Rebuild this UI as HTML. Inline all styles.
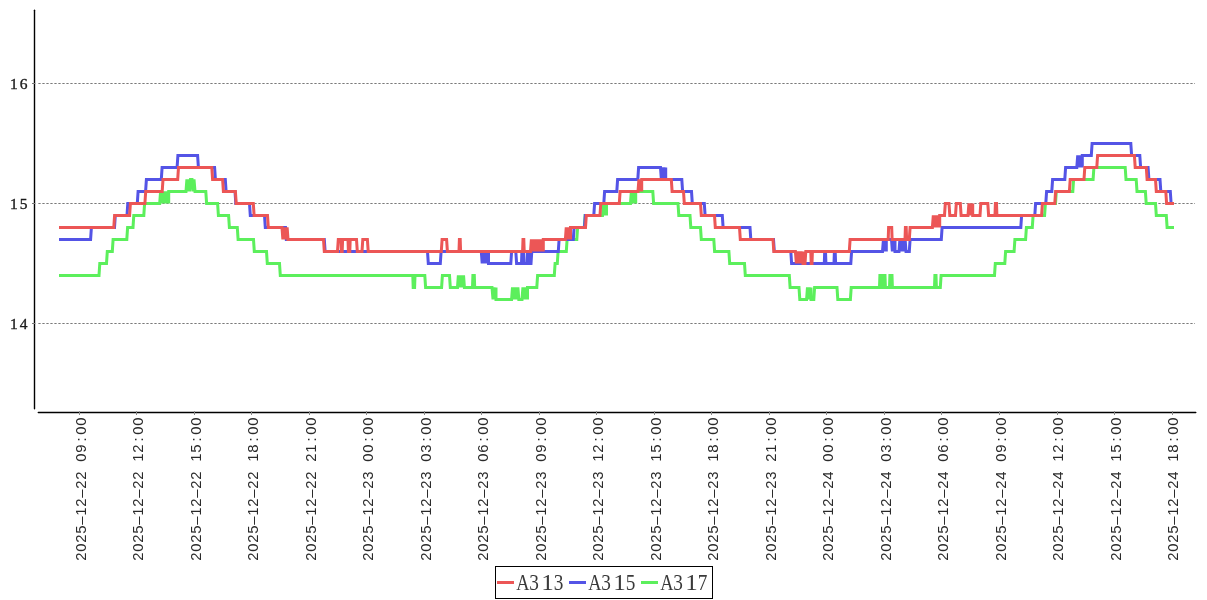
<!DOCTYPE html>
<html><head><meta charset="utf-8"><style>
html,body{margin:0;padding:0;background:#fff;width:1207px;height:600px;overflow:hidden}
svg{display:block;will-change:transform}
.yl{font-family:"Liberation Serif",serif;font-size:15.5px;fill:#1a1a1a;stroke:#1a1a1a;stroke-width:0.35px}
.xl{font-family:"Liberation Sans",sans-serif;font-size:14.9px;fill:#2a2a2a}
.lg{font-family:"Liberation Serif",serif;font-size:22.4px;fill:#3a3a3a}
</style></head><body>
<svg width="1207" height="600" viewBox="0 0 1207 600">
<rect width="1207" height="600" fill="#fff"/>
<line x1="38.35" y1="83.5" x2="1195" y2="83.5" stroke="#7a7a7a" stroke-width="1" stroke-dasharray="2.3 1.7"/>
<text y="88.5" class="yl" text-anchor="middle" x="13.8 23.6">16</text>
<line x1="38.35" y1="203.5" x2="1195" y2="203.5" stroke="#7a7a7a" stroke-width="1" stroke-dasharray="2.3 1.7"/>
<text y="208.5" class="yl" text-anchor="middle" x="13.8 23.6">15</text>
<line x1="38.35" y1="323.5" x2="1195" y2="323.5" stroke="#7a7a7a" stroke-width="1" stroke-dasharray="2.3 1.7"/>
<text y="328.5" class="yl" text-anchor="middle" x="13.8 23.6">14</text>
<line x1="34.5" y1="10.3" x2="34.5" y2="408.7" stroke="#000" stroke-width="1.4" stroke-linecap="round"/>
<line x1="38.3" y1="412.5" x2="1195.8" y2="412.5" stroke="#000" stroke-width="1.4" stroke-linecap="round"/>
<line x1="32" y1="83.5" x2="35.3" y2="83.5" stroke="#777" stroke-width="1"/>
<line x1="32" y1="203.5" x2="35.3" y2="203.5" stroke="#777" stroke-width="1"/>
<line x1="32" y1="323.5" x2="35.3" y2="323.5" stroke="#777" stroke-width="1"/>
<line x1="79.50" y1="411" x2="79.50" y2="415" stroke="#888" stroke-width="1"/>
<text transform="translate(85.50,0) rotate(-90)" class="xl" text-anchor="middle" x="-556.5 -547.5 -538.5 -529.5 -520.5 -511.5 -502.5 -493.5 -484.5 -475.5 -457.5 -448.5 -439.5 -430.5 -421.5">2025&#8211;12&#8211;2209:00</text>
<line x1="136.50" y1="411" x2="136.50" y2="415" stroke="#888" stroke-width="1"/>
<text transform="translate(143.00,0) rotate(-90)" class="xl" text-anchor="middle" x="-556.5 -547.5 -538.5 -529.5 -520.5 -511.5 -502.5 -493.5 -484.5 -475.5 -457.5 -448.5 -439.5 -430.5 -421.5">2025&#8211;12&#8211;2212:00</text>
<line x1="194.50" y1="411" x2="194.50" y2="415" stroke="#888" stroke-width="1"/>
<text transform="translate(200.50,0) rotate(-90)" class="xl" text-anchor="middle" x="-556.5 -547.5 -538.5 -529.5 -520.5 -511.5 -502.5 -493.5 -484.5 -475.5 -457.5 -448.5 -439.5 -430.5 -421.5">2025&#8211;12&#8211;2215:00</text>
<line x1="251.50" y1="411" x2="251.50" y2="415" stroke="#888" stroke-width="1"/>
<text transform="translate(258.00,0) rotate(-90)" class="xl" text-anchor="middle" x="-556.5 -547.5 -538.5 -529.5 -520.5 -511.5 -502.5 -493.5 -484.5 -475.5 -457.5 -448.5 -439.5 -430.5 -421.5">2025&#8211;12&#8211;2218:00</text>
<line x1="309.50" y1="411" x2="309.50" y2="415" stroke="#888" stroke-width="1"/>
<text transform="translate(315.50,0) rotate(-90)" class="xl" text-anchor="middle" x="-556.5 -547.5 -538.5 -529.5 -520.5 -511.5 -502.5 -493.5 -484.5 -475.5 -457.5 -448.5 -439.5 -430.5 -421.5">2025&#8211;12&#8211;2221:00</text>
<line x1="366.50" y1="411" x2="366.50" y2="415" stroke="#888" stroke-width="1"/>
<text transform="translate(373.00,0) rotate(-90)" class="xl" text-anchor="middle" x="-556.5 -547.5 -538.5 -529.5 -520.5 -511.5 -502.5 -493.5 -484.5 -475.5 -457.5 -448.5 -439.5 -430.5 -421.5">2025&#8211;12&#8211;2300:00</text>
<line x1="424.50" y1="411" x2="424.50" y2="415" stroke="#888" stroke-width="1"/>
<text transform="translate(430.50,0) rotate(-90)" class="xl" text-anchor="middle" x="-556.5 -547.5 -538.5 -529.5 -520.5 -511.5 -502.5 -493.5 -484.5 -475.5 -457.5 -448.5 -439.5 -430.5 -421.5">2025&#8211;12&#8211;2303:00</text>
<line x1="481.50" y1="411" x2="481.50" y2="415" stroke="#888" stroke-width="1"/>
<text transform="translate(488.00,0) rotate(-90)" class="xl" text-anchor="middle" x="-556.5 -547.5 -538.5 -529.5 -520.5 -511.5 -502.5 -493.5 -484.5 -475.5 -457.5 -448.5 -439.5 -430.5 -421.5">2025&#8211;12&#8211;2306:00</text>
<line x1="539.50" y1="411" x2="539.50" y2="415" stroke="#888" stroke-width="1"/>
<text transform="translate(545.50,0) rotate(-90)" class="xl" text-anchor="middle" x="-556.5 -547.5 -538.5 -529.5 -520.5 -511.5 -502.5 -493.5 -484.5 -475.5 -457.5 -448.5 -439.5 -430.5 -421.5">2025&#8211;12&#8211;2309:00</text>
<line x1="596.50" y1="411" x2="596.50" y2="415" stroke="#888" stroke-width="1"/>
<text transform="translate(603.00,0) rotate(-90)" class="xl" text-anchor="middle" x="-556.5 -547.5 -538.5 -529.5 -520.5 -511.5 -502.5 -493.5 -484.5 -475.5 -457.5 -448.5 -439.5 -430.5 -421.5">2025&#8211;12&#8211;2312:00</text>
<line x1="654.50" y1="411" x2="654.50" y2="415" stroke="#888" stroke-width="1"/>
<text transform="translate(660.50,0) rotate(-90)" class="xl" text-anchor="middle" x="-556.5 -547.5 -538.5 -529.5 -520.5 -511.5 -502.5 -493.5 -484.5 -475.5 -457.5 -448.5 -439.5 -430.5 -421.5">2025&#8211;12&#8211;2315:00</text>
<line x1="711.50" y1="411" x2="711.50" y2="415" stroke="#888" stroke-width="1"/>
<text transform="translate(718.00,0) rotate(-90)" class="xl" text-anchor="middle" x="-556.5 -547.5 -538.5 -529.5 -520.5 -511.5 -502.5 -493.5 -484.5 -475.5 -457.5 -448.5 -439.5 -430.5 -421.5">2025&#8211;12&#8211;2318:00</text>
<line x1="769.50" y1="411" x2="769.50" y2="415" stroke="#888" stroke-width="1"/>
<text transform="translate(775.50,0) rotate(-90)" class="xl" text-anchor="middle" x="-556.5 -547.5 -538.5 -529.5 -520.5 -511.5 -502.5 -493.5 -484.5 -475.5 -457.5 -448.5 -439.5 -430.5 -421.5">2025&#8211;12&#8211;2321:00</text>
<line x1="826.50" y1="411" x2="826.50" y2="415" stroke="#888" stroke-width="1"/>
<text transform="translate(833.00,0) rotate(-90)" class="xl" text-anchor="middle" x="-556.5 -547.5 -538.5 -529.5 -520.5 -511.5 -502.5 -493.5 -484.5 -475.5 -457.5 -448.5 -439.5 -430.5 -421.5">2025&#8211;12&#8211;2400:00</text>
<line x1="884.50" y1="411" x2="884.50" y2="415" stroke="#888" stroke-width="1"/>
<text transform="translate(890.50,0) rotate(-90)" class="xl" text-anchor="middle" x="-556.5 -547.5 -538.5 -529.5 -520.5 -511.5 -502.5 -493.5 -484.5 -475.5 -457.5 -448.5 -439.5 -430.5 -421.5">2025&#8211;12&#8211;2403:00</text>
<line x1="941.50" y1="411" x2="941.50" y2="415" stroke="#888" stroke-width="1"/>
<text transform="translate(948.00,0) rotate(-90)" class="xl" text-anchor="middle" x="-556.5 -547.5 -538.5 -529.5 -520.5 -511.5 -502.5 -493.5 -484.5 -475.5 -457.5 -448.5 -439.5 -430.5 -421.5">2025&#8211;12&#8211;2406:00</text>
<line x1="999.50" y1="411" x2="999.50" y2="415" stroke="#888" stroke-width="1"/>
<text transform="translate(1005.50,0) rotate(-90)" class="xl" text-anchor="middle" x="-556.5 -547.5 -538.5 -529.5 -520.5 -511.5 -502.5 -493.5 -484.5 -475.5 -457.5 -448.5 -439.5 -430.5 -421.5">2025&#8211;12&#8211;2409:00</text>
<line x1="1057.50" y1="411" x2="1057.50" y2="415" stroke="#888" stroke-width="1"/>
<text transform="translate(1063.00,0) rotate(-90)" class="xl" text-anchor="middle" x="-556.5 -547.5 -538.5 -529.5 -520.5 -511.5 -502.5 -493.5 -484.5 -475.5 -457.5 -448.5 -439.5 -430.5 -421.5">2025&#8211;12&#8211;2412:00</text>
<line x1="1114.50" y1="411" x2="1114.50" y2="415" stroke="#888" stroke-width="1"/>
<text transform="translate(1120.50,0) rotate(-90)" class="xl" text-anchor="middle" x="-556.5 -547.5 -538.5 -529.5 -520.5 -511.5 -502.5 -493.5 -484.5 -475.5 -457.5 -448.5 -439.5 -430.5 -421.5">2025&#8211;12&#8211;2415:00</text>
<line x1="1172.50" y1="411" x2="1172.50" y2="415" stroke="#888" stroke-width="1"/>
<text transform="translate(1178.00,0) rotate(-90)" class="xl" text-anchor="middle" x="-556.5 -547.5 -538.5 -529.5 -520.5 -511.5 -502.5 -493.5 -484.5 -475.5 -457.5 -448.5 -439.5 -430.5 -421.5">2025&#8211;12&#8211;2418:00</text>
<polyline fill="none" stroke="#5cef5c" stroke-width="3" stroke-linejoin="miter" stroke-miterlimit="2" points="59.00,275.40 99.00,275.40 99.80,263.40 106.50,263.40 107.30,251.40 112.30,251.40 113.10,239.40 126.80,239.40 127.60,227.40 133.00,227.40 133.80,215.40 143.80,215.40 144.60,203.40 159.70,203.40 159.70,203.40 160.60,191.40 161.50,203.40 162.40,191.40 163.30,203.40 164.20,191.40 165.10,203.40 166.00,191.40 166.90,203.40 167.80,191.40 168.70,203.40 168.70,191.40 186.00,191.40 186.00,191.40 186.90,179.40 187.80,191.40 188.70,179.40 189.60,191.40 190.50,179.40 190.50,179.40 192.00,179.40 192.00,179.40 193.00,191.40 194.00,179.40 195.00,191.40 195.00,191.40 205.80,191.40 206.60,203.40 217.60,203.40 218.40,215.40 228.60,215.40 229.40,227.40 237.30,227.40 238.10,239.40 253.50,239.40 254.30,251.40 266.50,251.40 267.30,263.40 279.50,263.40 280.30,275.40 412.80,275.40 413.20,287.40 414.60,287.40 415.00,275.40 424.80,275.40 425.60,287.40 441.60,287.40 442.40,275.40 449.50,275.40 450.30,287.40 457.50,287.40 457.50,287.40 458.36,275.40 459.23,287.40 460.09,275.40 460.95,287.40 461.81,275.40 462.67,287.40 463.54,275.40 464.40,287.40 464.40,287.40 472.50,287.40 472.90,275.40 474.30,275.40 474.70,287.40 492.00,287.40 492.00,287.40 493.00,299.40 494.00,287.40 495.00,299.40 496.00,287.40 496.00,299.40 511.60,299.40 511.60,299.40 512.50,287.40 513.40,299.40 514.30,287.40 515.20,299.40 516.10,287.40 517.00,299.40 517.90,287.40 518.80,299.40 518.80,299.40 522.00,299.40 522.00,299.40 522.92,287.40 523.83,299.40 524.75,287.40 525.67,299.40 526.58,287.40 527.50,299.40 527.50,287.40 536.80,287.40 537.60,275.40 554.30,275.40 555.10,263.40 557.30,263.40 558.10,251.40 566.30,251.40 567.10,239.40 576.80,239.40 577.60,227.40 584.30,227.40 585.10,215.40 602.50,215.40 602.50,215.40 603.50,203.40 604.50,215.40 605.50,203.40 606.50,215.40 606.50,203.40 630.50,203.40 630.50,203.40 631.37,191.40 632.23,203.40 633.10,191.40 633.97,203.40 634.83,191.40 635.70,203.40 635.70,191.40 652.80,191.40 653.60,203.40 678.00,203.40 678.80,215.40 690.00,215.40 690.80,227.40 700.50,227.40 701.30,239.40 713.80,239.40 714.60,251.40 728.90,251.40 729.70,263.40 744.50,263.40 745.30,275.40 789.30,275.40 790.10,287.40 799.00,287.40 799.80,299.40 806.60,299.40 806.60,299.40 807.48,287.40 808.36,299.40 809.24,287.40 810.12,299.40 811.00,287.40 811.00,299.40 813.80,299.40 814.60,287.40 837.00,287.40 837.80,299.40 850.40,299.40 851.20,287.40 879.50,287.40 879.90,275.40 881.00,275.40 881.40,287.40 883.50,287.40 883.90,275.40 885.00,275.40 885.40,287.40 889.50,287.40 889.90,275.40 892.00,275.40 892.40,287.40 934.50,287.40 934.90,275.40 936.00,275.40 936.40,287.40 940.30,287.40 941.10,275.40 994.50,275.40 995.30,263.40 1004.80,263.40 1005.60,251.40 1014.10,251.40 1014.90,239.40 1025.60,239.40 1026.40,227.40 1032.30,227.40 1033.10,215.40 1044.60,215.40 1045.40,203.40 1055.50,203.40 1056.30,191.40 1072.80,191.40 1073.60,179.40 1093.10,179.40 1093.90,167.40 1125.20,167.40 1126.00,179.40 1136.20,179.40 1137.00,191.40 1145.40,191.40 1146.20,203.40 1155.50,203.40 1156.30,215.40 1166.30,215.40 1167.10,227.40 1174.00,227.40"/>
<polyline fill="none" stroke="#5454e6" stroke-width="3" stroke-linejoin="miter" stroke-miterlimit="2" points="59.00,239.40 90.60,239.40 91.40,227.40 114.50,227.40 115.30,215.40 127.00,215.40 127.80,203.40 137.30,203.40 138.10,191.40 145.60,191.40 146.40,179.40 161.30,179.40 162.10,167.40 177.10,167.40 177.90,155.40 197.60,155.40 198.40,167.40 214.60,167.40 215.40,179.40 225.30,179.40 226.10,191.40 235.00,191.40 235.80,203.40 249.50,203.40 250.30,215.40 264.50,215.40 265.30,227.40 285.50,227.40 286.30,239.40 324.30,239.40 325.10,251.40 427.50,251.40 428.30,263.40 440.30,263.40 441.10,251.40 481.30,251.40 481.30,251.40 482.20,263.40 483.10,251.40 484.00,263.40 484.90,251.40 485.80,263.40 486.70,251.40 487.60,263.40 488.50,251.40 488.50,263.40 510.80,263.40 511.60,251.40 515.80,251.40 516.60,263.40 521.50,263.40 521.90,251.40 523.50,251.40 523.90,263.40 527.00,263.40 527.40,251.40 529.00,251.40 529.40,263.40 531.00,263.40 531.80,251.40 558.30,251.40 559.10,239.40 573.30,239.40 574.10,227.40 584.50,227.40 585.30,215.40 593.80,215.40 594.60,203.40 603.80,203.40 604.60,191.40 616.80,191.40 617.60,179.40 637.80,179.40 638.60,167.40 660.50,167.40 660.50,167.40 661.37,179.40 662.23,167.40 663.10,179.40 663.97,167.40 664.83,179.40 665.70,167.40 665.70,179.40 681.80,179.40 682.60,191.40 691.50,191.40 692.30,203.40 704.30,203.40 705.10,215.40 722.30,215.40 723.10,227.40 750.00,227.40 750.80,239.40 773.50,239.40 774.30,251.40 790.80,251.40 791.60,263.40 824.30,263.40 824.70,251.40 825.50,251.40 825.90,263.40 834.00,263.40 834.40,251.40 835.20,251.40 835.60,263.40 850.80,263.40 851.60,251.40 882.50,251.40 882.50,251.40 883.45,239.40 884.40,251.40 885.35,239.40 886.30,251.40 886.30,239.40 891.50,239.40 891.50,239.40 892.38,251.40 893.25,239.40 894.12,251.40 895.00,239.40 895.00,251.40 899.00,251.40 899.00,251.40 899.88,239.40 900.75,251.40 901.62,239.40 902.50,251.40 903.38,239.40 904.25,251.40 905.12,239.40 906.00,251.40 906.00,251.40 909.30,251.40 910.10,239.40 941.30,239.40 942.10,227.40 1020.80,227.40 1021.60,215.40 1034.80,215.40 1035.60,203.40 1045.80,203.40 1046.60,191.40 1051.80,191.40 1052.60,179.40 1064.80,179.40 1065.60,167.40 1076.80,167.40 1076.80,167.40 1077.72,155.40 1078.63,167.40 1079.55,155.40 1080.47,167.40 1081.38,155.40 1082.30,167.40 1082.30,155.40 1091.30,155.40 1092.10,143.40 1130.80,143.40 1131.60,155.40 1139.80,155.40 1140.60,167.40 1148.10,167.40 1148.90,179.40 1160.00,179.40 1160.80,191.40 1170.30,191.40 1171.10,203.40 1174.00,203.40"/>
<polyline fill="none" stroke="#ec5656" stroke-width="3" stroke-linejoin="miter" stroke-miterlimit="2" points="59.00,227.40 113.80,227.40 114.60,215.40 129.60,215.40 130.40,203.40 144.90,203.40 145.70,191.40 162.20,191.40 163.00,179.40 177.70,179.40 178.50,167.40 211.80,167.40 212.60,179.40 222.60,179.40 223.40,191.40 235.40,191.40 236.20,203.40 253.30,203.40 254.10,215.40 267.50,215.40 268.30,227.40 282.00,227.40 282.00,227.40 282.86,239.40 283.71,227.40 284.57,239.40 285.43,227.40 286.29,239.40 287.14,227.40 288.00,239.40 288.00,239.40 323.50,239.40 324.30,251.40 337.50,251.40 338.30,239.40 341.00,239.40 341.40,251.40 342.20,251.40 342.60,239.40 348.00,239.40 348.40,251.40 349.80,251.40 350.20,239.40 356.50,239.40 357.30,251.40 362.00,251.40 362.80,239.40 367.40,239.40 368.20,251.40 441.30,251.40 442.10,239.40 446.60,239.40 447.40,251.40 459.00,251.40 459.40,239.40 460.20,239.40 460.60,251.40 522.60,251.40 523.00,239.40 523.80,239.40 524.20,251.40 530.50,251.40 530.50,251.40 531.41,239.40 532.33,251.40 533.24,239.40 534.16,251.40 535.07,239.40 535.99,251.40 536.90,239.40 537.81,251.40 538.73,239.40 539.64,251.40 540.56,239.40 541.47,251.40 542.39,239.40 543.30,251.40 543.30,239.40 565.40,239.40 565.40,239.40 566.25,227.40 567.10,239.40 567.95,227.40 568.80,239.40 569.65,227.40 570.50,239.40 570.50,227.40 585.50,227.40 586.30,215.40 600.00,215.40 600.80,203.40 619.30,203.40 620.10,191.40 638.00,191.40 638.00,191.40 638.92,179.40 639.85,191.40 640.78,179.40 641.70,191.40 641.70,179.40 671.30,179.40 672.10,191.40 683.50,191.40 684.30,203.40 700.50,203.40 701.30,215.40 714.50,215.40 715.30,227.40 739.50,227.40 740.30,239.40 773.00,239.40 773.80,251.40 795.40,251.40 795.40,251.40 796.35,263.40 797.30,251.40 798.25,263.40 799.20,251.40 800.15,263.40 801.10,251.40 802.05,263.40 803.00,251.40 803.00,263.40 805.00,263.40 805.80,251.40 810.80,251.40 811.20,263.40 812.00,263.40 812.40,251.40 849.30,251.40 850.10,239.40 888.20,239.40 888.60,227.40 891.70,227.40 892.10,239.40 905.00,239.40 905.40,227.40 906.20,227.40 906.60,239.40 909.30,239.40 910.10,227.40 932.40,227.40 932.40,227.40 933.31,215.40 934.23,227.40 935.14,215.40 936.05,227.40 936.96,215.40 937.88,227.40 938.79,215.40 939.70,227.40 939.70,215.40 944.50,215.40 945.30,203.40 949.00,203.40 949.80,215.40 955.50,215.40 956.30,203.40 960.30,203.40 961.10,215.40 968.00,215.40 968.00,215.40 968.94,203.40 969.88,215.40 970.82,203.40 971.76,215.40 972.70,203.40 972.70,215.40 980.00,215.40 980.80,203.40 987.80,203.40 988.60,215.40 995.00,215.40 995.40,203.40 996.50,203.40 996.90,215.40 1041.60,215.40 1042.40,203.40 1054.80,203.40 1055.60,191.40 1069.40,191.40 1070.20,179.40 1084.00,179.40 1084.80,167.40 1096.80,167.40 1097.60,155.40 1134.40,155.40 1135.20,167.40 1146.30,167.40 1147.10,179.40 1155.50,179.40 1156.30,191.40 1165.80,191.40 1166.60,203.40 1174.00,203.40"/>
<rect x="495.5" y="566.5" width="217" height="32" fill="none" stroke="#000" stroke-width="1"/>
<line x1="497.0" y1="582.5" x2="514.0" y2="582.5" stroke="#ec5656" stroke-width="3"/>
<text class="lg" text-anchor="middle" transform="translate(523.00,590.2) scale(0.82,1)">A</text>
<text class="lg" text-anchor="middle" transform="translate(534.00,590.2) scale(0.86,1)">3</text>
<text class="lg" text-anchor="middle" transform="translate(547.50,590.2) scale(1.12,1)">1</text>
<text class="lg" text-anchor="middle" transform="translate(558.50,590.2) scale(0.86,1)">3</text>
<line x1="569.0" y1="582.5" x2="586.0" y2="582.5" stroke="#5454e6" stroke-width="3"/>
<text class="lg" text-anchor="middle" transform="translate(595.00,590.2) scale(0.82,1)">A</text>
<text class="lg" text-anchor="middle" transform="translate(606.00,590.2) scale(0.86,1)">3</text>
<text class="lg" text-anchor="middle" transform="translate(619.50,590.2) scale(1.12,1)">1</text>
<text class="lg" text-anchor="middle" transform="translate(630.50,590.2) scale(0.86,1)">5</text>
<line x1="641.0" y1="582.5" x2="658.0" y2="582.5" stroke="#5cef5c" stroke-width="3"/>
<text class="lg" text-anchor="middle" transform="translate(667.00,590.2) scale(0.82,1)">A</text>
<text class="lg" text-anchor="middle" transform="translate(678.00,590.2) scale(0.86,1)">3</text>
<text class="lg" text-anchor="middle" transform="translate(691.50,590.2) scale(1.12,1)">1</text>
<text class="lg" text-anchor="middle" transform="translate(702.50,590.2) scale(0.86,1)">7</text>
</svg>
</body></html>
